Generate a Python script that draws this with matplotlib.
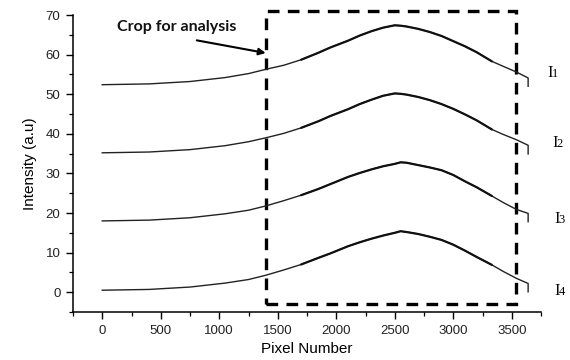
import matplotlib
matplotlib.use("Agg")
import matplotlib.pyplot as plt
from matplotlib.ticker import MultipleLocator
from matplotlib.patches import Rectangle
import matplotlib.transforms as mtransforms
import numpy as np

# ---- data ----
pixel = [0, 400, 750, 1050, 1250, 1400, 1550, 1700, 1850, 1950, 2100, 2200, 2300,
         2400, 2500, 2550, 2600, 2700, 2800, 2900, 3000, 3100, 3200, 3330, 3430,
         3540, 3640, 3640]
I1 = [52.4, 52.6, 53.2, 54.2, 55.2, 56.3, 57.3, 58.7, 60.5, 61.8, 63.5, 64.8, 65.9,
      66.8, 67.4, 67.3, 67.1, 66.5, 65.7, 64.7, 63.4, 62.1, 60.6, 58.3, 57.0,
      55.6, 54.1, 52.0]
I2 = [35.2, 35.4, 36.0, 37.0, 38.0, 39.0, 40.1, 41.5, 43.2, 44.5, 46.2, 47.5, 48.6,
      49.6, 50.2, 50.1, 49.9, 49.3, 48.5, 47.5, 46.3, 44.9, 43.4, 41.1, 39.8,
      38.5, 37.1, 34.9]
I3 = [18.0, 18.2, 18.8, 19.8, 20.7, 21.8, 23.1, 24.5, 26.1, 27.3, 29.1, 30.1, 31.0,
      31.8, 32.4, 32.8, 32.7, 32.1, 31.5, 30.8, 29.6, 28.0, 26.5, 24.3, 22.6,
      20.9, 19.9, 17.8]
I4 = [0.5, 0.7, 1.3, 2.3, 3.2, 4.3, 5.6, 7.0, 8.7, 9.8, 11.6, 12.6, 13.5,
      14.3, 15.0, 15.4, 15.2, 14.7, 14.0, 13.2, 12.0, 10.5, 8.9, 6.9, 5.2,
      3.5, 2.2, 0.1]
series = [I1, I2, I3, I4]
series_names = ["1", "2", "3", "4"]
label_pos_x = [3803, 3845, 3862, 3862]
label_pos_y = [54.3, 36.6, 17.4, -0.8]

crop_x = [1400, 3540]
crop_y = [-3, 71]
annotation_text = "Crop for analysis"
x_label = "Pixel Number"
y_label = "Intensity (a.u)"

# ---- figure ----
fig = plt.figure(figsize=(5.7, 3.6), dpi=100)
ax = fig.add_axes([73/570, 1-312/360, (541-73)/570, (312-15)/360])

px = np.array(pixel)
for ys in series:
    ys = np.array(ys)
    ax.plot(px, ys, color="#222222", lw=1.0, solid_joinstyle="round")
    m = (px >= 1700) & (px <= 3330)
    ax.plot(px[m], ys[m], color="#111111", lw=1.6, solid_capstyle="round",
            solid_joinstyle="round")

ax.set_xlim(-250, 3750)
ax.set_ylim(-5, 70)
ax.xaxis.set_major_locator(MultipleLocator(500))
ax.xaxis.set_minor_locator(MultipleLocator(250))
ax.yaxis.set_major_locator(MultipleLocator(10))
ax.yaxis.set_minor_locator(MultipleLocator(5))
for s in ["top", "right"]:
    ax.spines[s].set_visible(False)
for s in ["left", "bottom"]:
    ax.spines[s].set_linewidth(1.1)
ax.tick_params(which="major", direction="out", length=5, width=1.0,
               labelsize=9.5, pad=4, labelcolor="#222222")
ax.tick_params(which="minor", direction="out", length=3, width=0.9)
for lab in ax.get_xticklabels() + ax.get_yticklabels():
    lab.set_family("Liberation Sans")

ax.set_xlabel(x_label, fontsize=11, family="Liberation Sans", labelpad=4)
ax.set_ylabel(y_label, fontsize=11, family="Liberation Sans", labelpad=6)

# dashed crop rectangle
rect = Rectangle((crop_x[0], crop_y[0]), crop_x[1]-crop_x[0], crop_y[1]-crop_y[0],
                 fill=False, lw=2.4, ls=(0, (3.5, 2.5)), ec="black", clip_on=False)
ax.add_patch(rect)

# annotation with arrow
ax.text(125, 67.0, annotation_text, fontsize=11.5, fontweight="bold",
        family="Lato", ha="left", va="center", color="#111111")
ax.annotate("", xy=(1397, 60.4), xytext=(808, 63.6),
            arrowprops=dict(arrowstyle="-|>", color="black", lw=1.5,
                            mutation_scale=10, shrinkA=0, shrinkB=0))

# series labels
for name, lx, ly in zip(series_names, label_pos_x, label_pos_y):
    ax.text(lx, ly, "I", fontsize=12, family="Liberation Serif",
            va="baseline", ha="left", clip_on=False)
    tr = mtransforms.offset_copy(ax.transData, fig=fig, x=4.5, y=0, units="dots")
    ax.text(lx, ly, name, fontsize=9, family="Liberation Serif",
            va="baseline", ha="left", transform=tr, clip_on=False)

fig.savefig("out.png", dpi=100)
